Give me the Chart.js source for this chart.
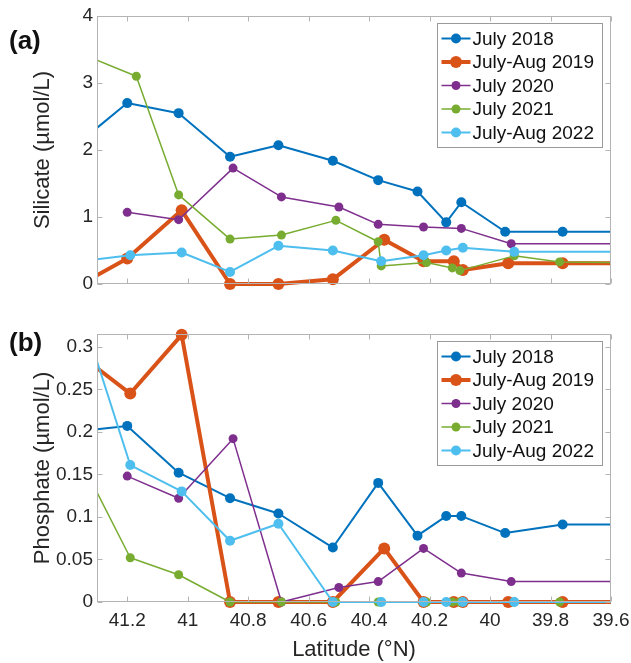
<!DOCTYPE html>
<html>
<head>
<meta charset="utf-8">
<script src="https://cdn.jsdelivr.net/npm/chart.js@4.4.0/dist/chart.umd.min.js"></script>
<style>
  html, body { margin: 0; padding: 0; background: #fff; }
  #wrap { position: relative; width: 631px; height: 663px; font-family: "Liberation Sans", Arial, sans-serif; }
  .panel { position: absolute; left: 0; }
  #boxA { top: 0; }
  #boxB { top: 300px; }
  .tag { position: absolute; font-weight: bold; font-size: 26px; color: #111; line-height: 30px; }
</style>
</head>
<body>
<div id="wrap">
  <div class="panel" id="boxA"><canvas id="chartA" width="631" height="300"></canvas></div>
  <div class="panel" id="boxB"><canvas id="chartB" width="631" height="363"></canvas></div>
  <div class="tag" style="left:9px; top:25px">(a)</div>
  <div class="tag" style="left:9px; top:327px">(b)</div>
</div>
<script>
// axis limits and ticks
const LAT_MIN = 39.6;
const LAT_MAX = 41.3;
const latTicks = [41.2, 41, 40.8, 40.6, 40.4, 40.2, 40, 39.8, 39.6];
const siTicks = [0, 1, 2, 3, 4];
const poTicks = [0, 0.05, 0.1, 0.15, 0.2, 0.25, 0.3];

const seriesNames = ["July 2018", "July-Aug 2019", "July 2020", "July 2021", "July-Aug 2022"];

// (a) silicate, umol/L
const siLat2018 = [41.3, 41.2, 41.03, 40.86, 40.70, 40.52, 40.37, 40.24, 40.145, 40.095, 39.95, 39.76, 39.6];
const si2018    = [2.33, 2.70, 2.55, 1.90, 2.07, 1.84, 1.55, 1.38, 0.92, 1.22, 0.78, 0.78, 0.78];
const siLat2019 = [41.3, 41.2, 41.02, 40.86, 40.70, 40.52, 40.35, 40.22, 40.12, 40.09, 39.94, 39.76, 39.6];
const si2019    = [0.13, 0.38, 1.10, 0, 0, 0.07, 0.66, 0.34, 0.34, 0.21, 0.31, 0.31, 0.31];
const siLat2020 = [41.2, 41.03, 40.85, 40.69, 40.50, 40.37, 40.22, 40.095, 39.93, 39.6];
const si2020    = [1.07, 0.96, 1.73, 1.30, 1.15, 0.89, 0.85, 0.83, 0.60, 0.60];
const siLat2021 = [41.3, 41.17, 41.03, 40.86, 40.69, 40.51, 40.37, 40.36, 40.21, 40.125, 40.10, 39.92, 39.77, 39.6];
const si2021    = [3.34, 3.10, 1.33, 0.67, 0.73, 0.95, 0.63, 0.27, 0.32, 0.24, 0.20, 0.42, 0.33, 0.32];
const siLat2022 = [41.3, 41.19, 41.02, 40.86, 40.70, 40.52, 40.36, 40.22, 40.145, 40.09, 39.92, 39.6];
const si2022    = [0.37, 0.43, 0.47, 0.18, 0.57, 0.50, 0.34, 0.43, 0.50, 0.54, 0.48, 0.48];

// (b) phosphate, umol/L
const poLat2018 = [41.3, 41.2, 41.03, 40.86, 40.70, 40.52, 40.37, 40.24, 40.145, 40.095, 39.95, 39.76, 39.6];
const po2018    = [0.203, 0.207, 0.152, 0.122, 0.104, 0.064, 0.140, 0.078, 0.101, 0.101, 0.081, 0.091, 0.091];
const poLat2019 = [41.3, 41.19, 41.02, 40.86, 40.70, 40.52, 40.35, 40.22, 40.12, 40.09, 39.94, 39.76, 39.6];
const po2019    = [0.275, 0.245, 0.314, 0, 0, 0, 0.063, 0, 0, 0, 0, 0, 0];
const poLat2020 = [41.2, 41.03, 40.85, 40.69, 40.50, 40.37, 40.22, 40.095, 39.93, 39.6];
const po2020    = [0.148, 0.122, 0.192, 0, 0.017, 0.024, 0.063, 0.034, 0.024, 0.024];
const poLat2021 = [41.3, 41.19, 41.03, 40.86, 40.69, 40.51, 40.37, 40.36, 40.21, 40.125, 40.10, 39.92, 39.77, 39.6];
const po2021    = [0.129, 0.052, 0.032, 0, 0, 0, 0, 0, 0, 0, 0, 0, 0, 0];
const poLat2022 = [41.3, 41.19, 41.02, 40.86, 40.70, 40.52, 40.36, 40.22, 40.145, 40.09, 39.92, 39.6];
const po2022    = [0.283, 0.161, 0.130, 0.072, 0.092, 0, 0, 0, 0, 0, 0, 0];

// styles
const colors = ["#0072BD", "#D95319", "#7E2F8E", "#77AC30", "#4DBEEE"];
const lineWidths = [2, 4, 1.5, 1.5, 2];
const markerRadii = [5, 6, 4.5, 4.5, 5];
const FONT = '"Liberation Sans", Arial, sans-serif';
const TEXT = "#262626";
const FRAME = "#b4b4b4";
const TICK_LEN = 5;

function pts(lats, vals) {
    return lats.map((x, i) => ({ x: x, y: vals[i] }));
}

function makeDatasets(latList, valList) {
    return seriesNames.map((name, i) => ({
        label: name,
        data: pts(latList[i], valList[i]),
        borderColor: colors[i],
        backgroundColor: colors[i],
        borderWidth: lineWidths[i],
        borderJoinStyle: 'round',
        pointBackgroundColor: colors[i],
        pointBorderWidth: 0,
        // markers hidden where the line just runs on to the axis edge
        pointRadius: ctx => (ctx.raw && (ctx.raw.x >= LAT_MAX || ctx.raw.x <= LAT_MIN)) ? 0 : markerRadii[i],
        tension: 0,
        order: seriesNames.length - i,
        clip: { left: 0, right: 0, top: 10, bottom: 10 }
    }));
}

// box, inward ticks and legend, like the matlab axes
const frameLegend = {
    id: 'frameLegend',
    afterDraw(chart) {
        const ctx = chart.ctx;
        const ca = chart.chartArea;
        const xs = chart.scales.x, ys = chart.scales.y;
        const yTicks = chart.options.plugins.frameLegend.yTicks;
        ctx.save();
        ctx.strokeStyle = FRAME;
        ctx.lineWidth = 1;
        const L = Math.round(ca.left) + 0.5, R = Math.round(ca.right) - 0.5;
        const T = Math.round(ca.top) + 0.5, B = Math.round(ca.bottom) - 0.5;
        ctx.strokeRect(L, T, R - L, B - T);
        ctx.beginPath();
        latTicks.forEach(v => {
            const px = Math.round(xs.getPixelForValue(v)) + 0.5;
            ctx.moveTo(px, T); ctx.lineTo(px, T + TICK_LEN);
            ctx.moveTo(px, B); ctx.lineTo(px, B - TICK_LEN);
        });
        yTicks.forEach(v => {
            const py = Math.round(ys.getPixelForValue(v)) + 0.5;
            ctx.moveTo(L, py); ctx.lineTo(L + TICK_LEN, py);
            ctx.moveTo(R, py); ctx.lineTo(R - TICK_LEN, py);
        });
        ctx.stroke();

        // legend
        const w = 165, h = 124;
        const lx = Math.round(ca.right - 9 - w) + 0.5;
        const ly = Math.round(ca.top + 7) + 0.5;
        ctx.fillStyle = "#fff";
        ctx.fillRect(lx, ly, w, h);
        ctx.strokeStyle = "#9a9a9a";
        ctx.strokeRect(lx, ly, w, h);
        ctx.font = "19px " + FONT;
        ctx.textBaseline = "middle";
        ctx.textAlign = "left";
        seriesNames.forEach((name, i) => {
            const cy = ly + 15 + i * 23.5;
            ctx.strokeStyle = colors[i];
            ctx.lineWidth = lineWidths[i];
            ctx.beginPath();
            ctx.moveTo(lx + 4, cy); ctx.lineTo(lx + 33, cy);
            ctx.stroke();
            ctx.fillStyle = colors[i];
            ctx.beginPath();
            ctx.arc(lx + 18.5, cy, markerRadii[i], 0, Math.PI * 2);
            ctx.fill();
            ctx.fillStyle = "#111";
            ctx.fillText(name, lx + 35, cy + 1);
        });
        ctx.restore();
    }
};

function fmt(v) {
    return String(+Number(v).toFixed(2));
}

function buildChart(id, latList, valList, yMax, yTicks, yTitle, showX, pad) {
    return new Chart(document.getElementById(id), {
        type: 'line',
        data: { datasets: makeDatasets(latList, valList) },
        plugins: [frameLegend],
        options: {
            responsive: false,
            animation: false,
            events: [],
            layout: { padding: pad },
            plugins: {
                legend: { display: false },
                tooltip: { enabled: false },
                frameLegend: { yTicks: yTicks }
            },
            scales: {
                x: {
                    type: 'linear',
                    reverse: true,
                    min: LAT_MIN,
                    max: LAT_MAX,
                    display: showX,
                    afterBuildTicks: s => { s.ticks = latTicks.map(v => ({ value: v })); },
                    afterFit: s => {
                        if (showX) s.height = 61;
                        s.paddingLeft = 0;
                        s.paddingRight = 0;
                    },
                    grid: { display: false, drawTicks: false },
                    border: { display: false },
                    ticks: { font: { family: FONT, size: 19 }, color: TEXT, padding: 7, maxRotation: 0, autoSkip: false, callback: fmt },
                    title: { display: showX, text: 'Latitude (°N)', font: { family: FONT, size: 22 }, color: TEXT, padding: { top: 0, bottom: 0 } }
                },
                y: {
                    min: 0,
                    max: yMax,
                    afterBuildTicks: s => { s.ticks = yTicks.map(v => ({ value: v })); },
                    afterFit: s => {
                        s.width = 97;
                        s.paddingTop = 0;
                        s.paddingBottom = 0;
                    },
                    grid: { display: false, drawTicks: false },
                    border: { display: false },
                    ticks: { font: { family: FONT, size: 19 }, color: TEXT, padding: 4, autoSkip: false, callback: fmt },
                    title: { display: true, text: yTitle, font: { family: FONT, size: 22 }, color: TEXT, padding: { top: 30, bottom: 0 } }
                }
            }
        }
    });
}

window.onload = () => {
    buildChart('chartA',
        [siLat2018, siLat2019, siLat2020, siLat2021, siLat2022],
        [si2018, si2019, si2020, si2021, si2022],
        4, siTicks, 'Silicate (µmol/L)', false,
        { top: 16, bottom: 16, left: 0, right: 20 });
    buildChart('chartB',
        [poLat2018, poLat2019, poLat2020, poLat2021, poLat2022],
        [po2018, po2019, po2020, po2021, po2022],
        0.315, poTicks, 'Phosphate (µmol/L)', true,
        { top: 34, bottom: 0, left: 0, right: 20 });
};
</script>
</body>
</html>
